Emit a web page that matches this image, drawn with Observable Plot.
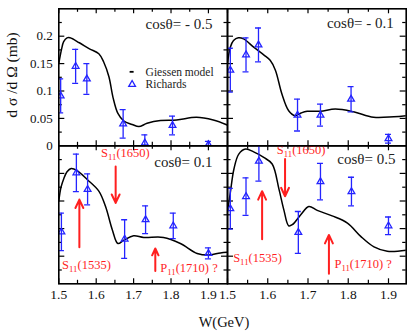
<!DOCTYPE html>
<html><head><meta charset="utf-8">
<script src="https://cdn.jsdelivr.net/npm/d3@7"></script>
<script src="https://cdn.jsdelivr.net/npm/@observablehq/plot@0.6"></script>
<style>
body{margin:0;background:#fff;}
#wrap{position:relative;width:407px;height:332px;background:#fff;overflow:hidden;font-family:"Liberation Serif","Times New Roman",serif;}
#wrap svg{position:absolute;left:0;top:0;}
#wrap svg text{font-family:"Liberation Serif","Times New Roman",serif;}
.lab{position:absolute;white-space:nowrap;color:#111;line-height:1;font-family:"Liberation Serif","Times New Roman",serif;}
#ylab{left:11.5px;top:75px;font-size:15.5px;transform:translate(-50%,-50%) rotate(-90deg);}
#xlab{left:224px;top:315px;font-size:14.5px;transform:translateX(-50%);}
</style></head><body>
<div id="wrap">
<div class="lab" id="ylab">d σ /d Ω (mb)</div>
<div class="lab" id="xlab">W(GeV)</div>
</div>
<script>
// ---------- data ----------
const panelTitles = ["cosθ= - 0.5", "cosθ= - 0.1", "cosθ= 0.1", "cosθ= 0.5"];
const legendLabels = ["Giessen model", "Richards"];

const xTickLabelValues = [1.5, 1.6, 1.7, 1.8, 1.9];
const xTickLabels = ["1.5", "1.6", "1.7", "1.8", "1.9"];
const yTickLabelValues = [0, 0.05, 0.1, 0.15, 0.2];
const yTickLabels = ["0", "0.05", "0.1", "0.15", "0.2"];
const xMajorTicks = [1.5, 1.6, 1.7, 1.8, 1.9];
const xMinorTicks = [1.55, 1.65, 1.75, 1.85];
const yMajorTicks = [0.05, 0.1, 0.15, 0.2];
const yMinorTicks = [0.025, 0.075, 0.125, 0.175, 0.225];

// Richards data (W, dσ/dΩ, error)
const richW_m05 = [1.505, 1.545, 1.575, 1.672, 1.730, 1.804, 1.900];
const richV_m05 = [0.091, 0.145, 0.122, 0.040, 0.005, 0.037, 0.002];
const richE_m05 = [0.031, 0.031, 0.028, 0.026, 0.015, 0.017, 0.006];

const richW_m01 = [1.507, 1.546, 1.577, 1.674, 1.731, 1.807, 1.900];
const richV_m01 = [0.138, 0.166, 0.184, 0.056, 0.056, 0.085, 0.013];
const richE_m01 = [0.040, 0.031, 0.031, 0.029, 0.020, 0.023, 0.008];

const richW_p01 = [1.507, 1.547, 1.577, 1.676, 1.732, 1.806, 1.900];
const richV_p01 = [0.094, 0.201, 0.171, 0.081, 0.116, 0.105, 0.055];
const richE_p01 = [0.034, 0.034, 0.028, 0.035, 0.025, 0.023, 0.010];

const richW_p05 = [1.507, 1.546, 1.578, 1.676, 1.731, 1.808, 1.900];
const richV_p05 = [0.136, 0.158, 0.222, 0.093, 0.185, 0.167, 0.105];
const richE_p05 = [0.037, 0.034, 0.036, 0.038, 0.033, 0.026, 0.016];

// Giessen model curves
const modW_m05 = [1.500, 1.507, 1.513, 1.522, 1.530, 1.555, 1.582, 1.607, 1.620, 1.634, 1.645, 1.658, 1.674, 1.696, 1.714, 1.736, 1.772, 1.815, 1.868, 1.913, 1.950];
const modV_m05 = [0.150, 0.175, 0.190, 0.197, 0.197, 0.188, 0.177, 0.168, 0.153, 0.126, 0.088, 0.059, 0.045, 0.039, 0.035, 0.041, 0.046, 0.047, 0.052, 0.047, 0.038];

const modW_m01 = [1.500, 1.507, 1.515, 1.527, 1.540, 1.565, 1.590, 1.606, 1.619, 1.635, 1.652, 1.668, 1.683, 1.698, 1.731, 1.768, 1.813, 1.863, 1.913, 1.945];
const modV_m01 = [0.150, 0.180, 0.192, 0.197, 0.195, 0.180, 0.166, 0.156, 0.138, 0.095, 0.064, 0.055, 0.060, 0.063, 0.063, 0.067, 0.062, 0.052, 0.053, 0.055];

const modW_p01 = [1.500, 1.506, 1.513, 1.522, 1.533, 1.549, 1.576, 1.607, 1.625, 1.643, 1.658, 1.674, 1.700, 1.727, 1.780, 1.825, 1.870, 1.900, 1.932, 1.950];
const modV_p01 = [0.150, 0.175, 0.190, 0.203, 0.209, 0.205, 0.189, 0.168, 0.140, 0.098, 0.073, 0.079, 0.087, 0.084, 0.084, 0.073, 0.055, 0.052, 0.056, 0.057];

const modW_p05 = [1.500, 1.507, 1.516, 1.528, 1.545, 1.565, 1.590, 1.611, 1.628, 1.640, 1.652, 1.661, 1.682, 1.702, 1.723, 1.760, 1.798, 1.831, 1.864, 1.897, 1.945];
const modV_p05 = [0.131, 0.165, 0.208, 0.235, 0.244, 0.239, 0.229, 0.217, 0.171, 0.134, 0.105, 0.107, 0.125, 0.140, 0.133, 0.123, 0.110, 0.086, 0.067, 0.059, 0.061];

// resonance annotations: name, subscript, mass suffix
const resNames = ["S", "S", "P"];
const resSubs = ["11", "11", "11"];
const resMasses = ["(1650)", "(1535)", "(1710) ?"];
const resTextW_p01 = [1.678, 1.574, 1.848];
const resTextV_p01 = [0.2295, 0.0275, 0.021];
const resArrowW_p01 = [1.652, 1.555, 1.758];
const resArrowFrom_p01 = [0.2125, 0.066, 0.023];
const resArrowTo_p01 = [0.1465, 0.1526, 0.064];

const resTextW_p05 = [1.683, 1.5746, 1.837];
const resTextV_p05 = [0.235, 0.0396, 0.0286];
const resArrowW_p05 = [1.643, 1.586, 1.752];
const resArrowFrom_p05 = [0.226, 0.0806, 0.0183];
const resArrowTo_p05 = [0.1586, 0.1678, 0.0885];

// legend placement (data units of first panel)
const legendW = [1.696, 1.732];
const legendV = [0.135, 0.112];

// ---------- drawing ----------
const BLUE = "#2424ff", RED = "#ff1f1f", INK = "#111";
const FONT = "'Liberation Serif', 'Times New Roman', serif";
const zipPts = (W, V, E) => W.map((w, i) => ({W: w, v: V[i], e: E[i]}));
const zipCurve = (W, V) => W.map((w, i) => ({W: w, v: V[i]}));

const panels = [
  {box: [58.3, 227, 8.3, 145.3], xmax: 1.951, title: panelTitles[0], tdx: -15, tdy: 19.7,
   pts: zipPts(richW_m05, richV_m05, richE_m05), curve: zipCurve(modW_m05, modV_m05), yLabels: true, legend: true},
  {box: [227, 405.7, 8.3, 145.3], xmax: 1.944, title: panelTitles[1], tdx: -12.4, tdy: 19.4,
   pts: zipPts(richW_m01, richV_m01, richE_m01), curve: zipCurve(modW_m01, modV_m01)},
  {box: [58.3, 227, 145.3, 283.3], xmax: 1.951, title: panelTitles[2], tdx: -15, tdy: 21.4,
   pts: zipPts(richW_p01, richV_p01, richE_p01), curve: zipCurve(modW_p01, modV_p01), xLabels: true,
   res: {tw: resTextW_p01, tv: resTextV_p01, aw: resArrowW_p01, a1: resArrowFrom_p01, a2: resArrowTo_p01}},
  {box: [227, 405.7, 145.3, 283.3], xmax: 1.944, title: panelTitles[3], tdx: -10.7, tdy: 18,
   pts: zipPts(richW_p05, richV_p05, richE_p05), curve: zipCurve(modW_p05, modV_p05), xLabels: true,
   res: {tw: resTextW_p05, tv: resTextV_p05, aw: resArrowW_p05, a1: resArrowFrom_p05, a2: resArrowTo_p05}}
];

const wrap = document.getElementById("wrap");
const W0 = 407, H0 = 332;

for (const p of panels) {
  const [L, R, T, B] = p.box;
  const iw = R - L, ih = B - T;
  const marks = [];
  // inner ticks
  marks.push(Plot.ruleX(xMajorTicks, {x: d => d, insetTop: ih - 5, stroke: "black", strokeWidth: 1.2}));
  marks.push(Plot.ruleX(xMinorTicks, {x: d => d, insetTop: ih - 3.5, stroke: "black", strokeWidth: 1.2}));
  marks.push(Plot.ruleX(xMajorTicks, {x: d => d, insetBottom: ih - 5, stroke: "black", strokeWidth: 1.2}));
  marks.push(Plot.ruleX(xMinorTicks, {x: d => d, insetBottom: ih - 3.5, stroke: "black", strokeWidth: 1.2}));
  marks.push(Plot.ruleY(yMajorTicks, {y: d => d, insetRight: iw - 6, stroke: "black", strokeWidth: 1.2}));
  marks.push(Plot.ruleY(yMinorTicks, {y: d => d, insetRight: iw - 3.5, stroke: "black", strokeWidth: 1.2}));
  marks.push(Plot.ruleY(yMajorTicks, {y: d => d, insetLeft: iw - 6, stroke: "black", strokeWidth: 1.2}));
  marks.push(Plot.ruleY(yMinorTicks, {y: d => d, insetLeft: iw - 3.5, stroke: "black", strokeWidth: 1.2}));

  // model curve
  marks.push(Plot.line(p.curve, {x: "W", y: "v", curve: "catmull-rom", stroke: "black", strokeWidth: 1.5, clip: true}));
  // error bars
  marks.push(Plot.ruleX(p.pts, {x: "W", y1: d => d.v - d.e, y2: d => d.v + d.e, stroke: BLUE, strokeWidth: 1.3, clip: true}));
  marks.push(Plot.ruleY(p.pts, {y: d => d.v + d.e, x1: "W", x2: "W", insetLeft: -3, insetRight: -3, stroke: BLUE, strokeWidth: 1.3, clip: true}));
  marks.push(Plot.ruleY(p.pts, {y: d => d.v - d.e, x1: "W", x2: "W", insetLeft: -3, insetRight: -3, stroke: BLUE, strokeWidth: 1.3, clip: true}));
  marks.push(Plot.dot(p.pts, {x: "W", y: "v", symbol: "triangle", r: 2.5, stroke: BLUE, fill: "none", strokeWidth: 1.3, clip: true}));

  // title
  marks.push(Plot.text([p.title], {frameAnchor: "top-right", textAnchor: "end", lineAnchor: "bottom",
    dx: p.tdx, dy: p.tdy, fontSize: 15, fill: "#222", fontFamily: FONT}));

  if (p.legend) {
    marks.push(Plot.ruleY([legendV[0]], {y: d => d, x1: legendW[0], x2: legendW[0], insetLeft: -2, insetRight: -2, stroke: "black", strokeWidth: 1.8}));
    marks.push(Plot.dot([legendV[1]], {x: legendW[0], y: d => d, symbol: "triangle", r: 2.5, stroke: BLUE, fill: "none", strokeWidth: 1.3}));
    marks.push(Plot.text(legendLabels, {x: legendW[1], y: (d, i) => legendV[i], text: d => d, textAnchor: "start", fontSize: 11.5, fill: "#222", fontFamily: FONT}));
  }
  if (p.res) {
    const r = p.res;
    const arr = resNames.map((n, i) => ({t: n + "|" + resSubs[i] + "|" + resMasses[i], tw: r.tw[i], tv: r.tv[i], aw: r.aw[i], a1: r.a1[i], a2: r.a2[i]}));
    marks.push(Plot.arrow(arr, {x: "aw", y1: "a1", y2: "a2", stroke: RED, strokeWidth: 2, headLength: 7, headAngle: 50}));
    marks.push(Plot.text(arr, {x: "tw", y: "tv", text: "t", lineAnchor: "bottom", fontSize: 12.5, fill: RED, fontFamily: FONT, className: "reslab"}));
  }
  if (p.yLabels) {
    marks.push(Plot.text(yTickLabelValues, {y: d => d, text: (d, i) => yTickLabels[i], frameAnchor: "left", textAnchor: "end", dx: -6, fontSize: 13, fill: INK, fontFamily: FONT}));
  }
  if (p.xLabels) {
    marks.push(Plot.text(xTickLabelValues, {x: d => d, text: (d, i) => xTickLabels[i], frameAnchor: "bottom", lineAnchor: "bottom", dy: 15.5, fontSize: 13.5, fill: INK, fontFamily: FONT}));
  }
  marks.push(Plot.frame({stroke: "black", strokeWidth: 1.6}));

  const svg = Plot.plot({
    width: W0, height: H0,
    marginLeft: L, marginRight: W0 - R, marginTop: T, marginBottom: H0 - B,
    x: {domain: [1.5, p.xmax], axis: null},
    y: {domain: [0, 0.25], axis: null},
    style: {background: "transparent", overflow: "visible", fontFamily: FONT},
    marks
  });
  // turn "S|11|(1650)" into S with a lowered subscript
  svg.querySelectorAll("g.reslab text, .reslab text").forEach(t => {
    const parts = t.textContent.split("|");
    if (parts.length !== 3) return;
    t.textContent = "";
    const ns = "http://www.w3.org/2000/svg";
    const a = document.createElementNS(ns, "tspan"); a.textContent = parts[0];
    const b = document.createElementNS(ns, "tspan"); b.textContent = parts[1];
    b.setAttribute("font-size", "70%"); b.setAttribute("dy", "3");
    const c = document.createElementNS(ns, "tspan"); c.textContent = parts[2];
    c.setAttribute("dy", "-3");
    t.append(a, b, c);
  });
  wrap.appendChild(svg);
}
</script>
</body></html>
